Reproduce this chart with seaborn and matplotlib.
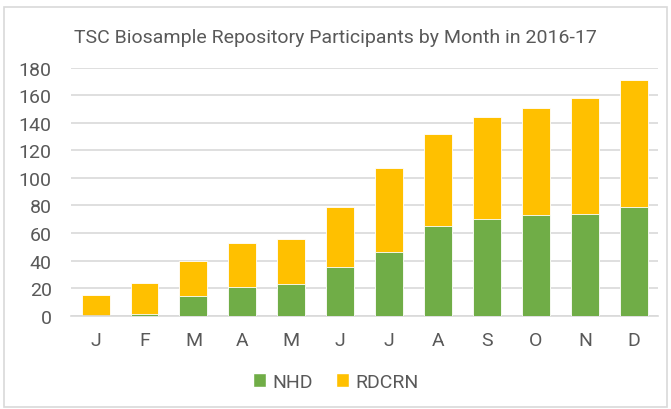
import pandas as pd
import matplotlib.pyplot as plt
import seaborn as sns
from matplotlib.patches import Patch, Rectangle

# Monthly participants
months = ['J', 'F', 'M', 'A', 'M', 'J', 'J', 'A', 'S', 'O', 'N', 'D']
nhd = [0, 1, 14, 21, 23, 35, 46, 65, 70, 73, 74, 79]
rdcrn = [15, 23, 26, 32, 33, 44, 61, 67, 74, 78, 84, 92]

df = pd.DataFrame({'pos': range(len(months)), 'NHD': nhd, 'RDCRN': rdcrn})
df['Total'] = df['NHD'] + df['RDCRN']

sns.set_theme(style="white")
plt.rcParams['font.family'] = ['Roboto', 'DejaVu Sans']

text_col = '#595959'
green = '#70AD47'
yellow = '#FFC000'

fig = plt.figure(figsize=(6.71, 4.10), dpi=100)
ax = fig.add_axes([0.106, 0.2276, 0.875, 0.6048])

# Stacked: draw totals in yellow, then NHD on top in green
sns.barplot(data=df, x='pos', y='Total', color=yellow, width=0.57,
            saturation=1, ax=ax, zorder=2, edgecolor='white', linewidth=0.6)
sns.barplot(data=df, x='pos', y='NHD', color=green, width=0.57,
            saturation=1, ax=ax, zorder=3, edgecolor='white', linewidth=0.6)

ax.set_ylim(0, 180)
ax.set_yticks(range(0, 181, 20))
ax.set_xlim(-0.5, len(months) - 0.5)
ax.set_xticks(range(len(months)))
ax.set_xticklabels(months)
ax.yaxis.grid(True, color='#d9d9d9', linewidth=1.2, zorder=0)
ax.set_axisbelow(True)
for s in ['top', 'right', 'left']:
    ax.spines[s].set_visible(False)
ax.spines['bottom'].set_color('#d9d9d9')
ax.spines['bottom'].set_linewidth(1.2)
ax.tick_params(axis='both', length=0, labelsize=14, colors=text_col)
ax.tick_params(axis='x', pad=11)
ax.tick_params(axis='y', pad=14)
ax.set_xlabel('')
ax.set_ylabel('')

fig.text(0.5, 0.907, 'TSC Biosample Repository Participants by Month in 2016-17',
         ha='center', va='center', fontsize=14, color=text_col)

handles = [Patch(facecolor=green, label='NHD'),
           Patch(facecolor=yellow, label='RDCRN')]
fig.legend(handles=handles, loc='center', bbox_to_anchor=(0.5, 0.066), ncol=2,
           frameon=False, fontsize=14, labelcolor=text_col,
           handlelength=0.7, handleheight=0.7, handletextpad=0.3, columnspacing=1.2)

# light outer border like the Excel chart area
fig.patches.append(Rectangle((0.006, 0.006), 0.988, 0.975, transform=fig.transFigure,
                             fill=False, edgecolor='#d9d9d9', linewidth=1.2))

plt.savefig('out.png', dpi=100)
